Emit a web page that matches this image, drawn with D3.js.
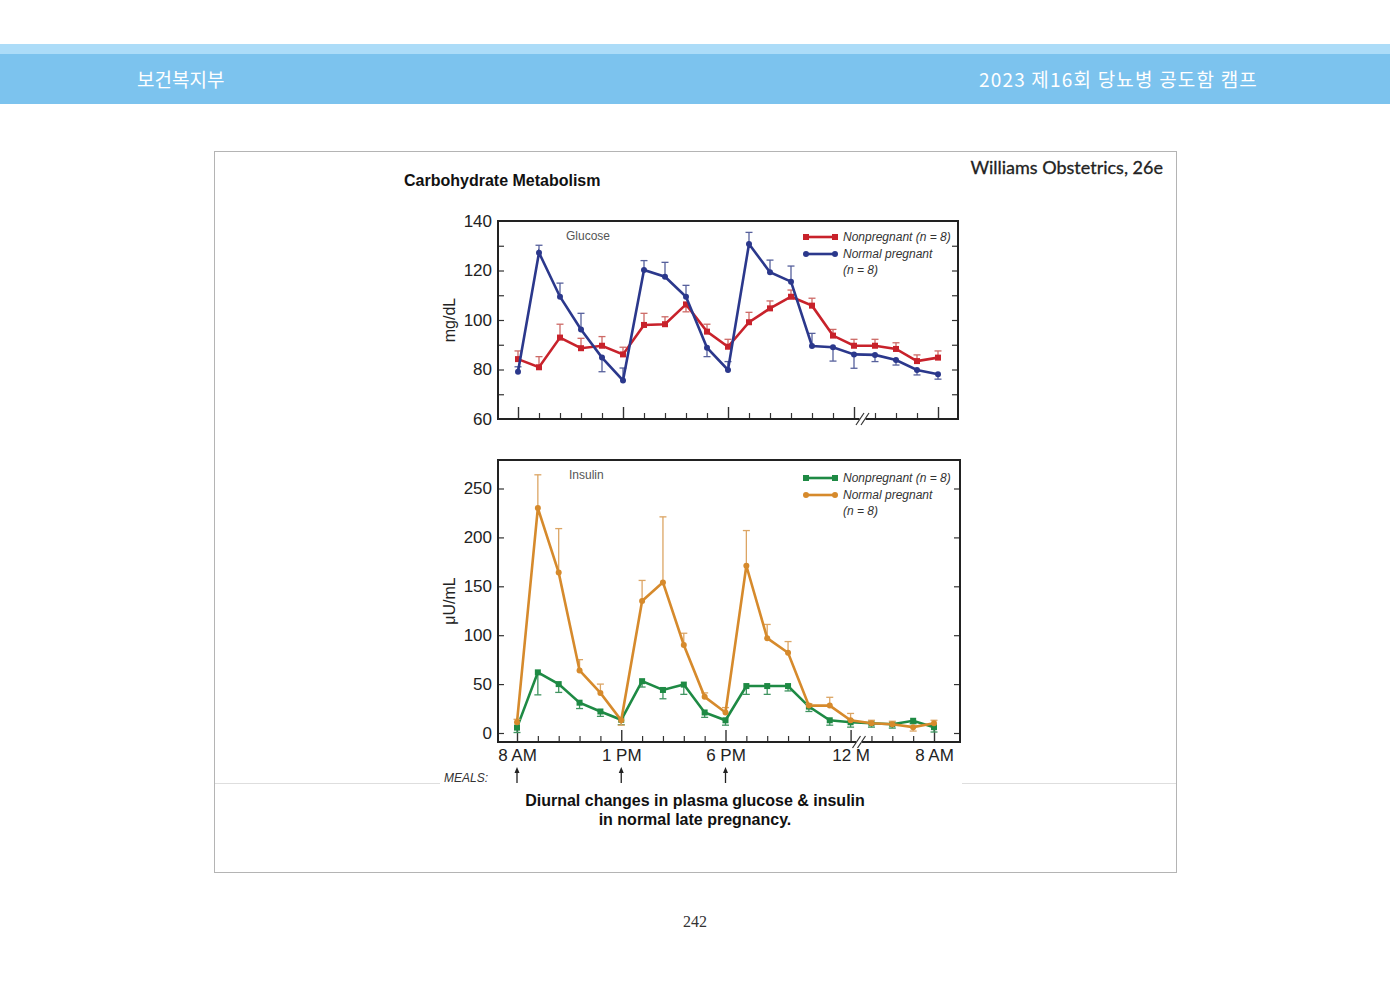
<!DOCTYPE html>
<html>
<head>
<meta charset="utf-8">
<script src="https://cdn.jsdelivr.net/npm/d3@7"></script>
<style>
  body { margin: 0; background: #fff; }
  svg { display: block; }
</style>
</head>
<body>
<script>
// sampling times (hourly until midnight, then every 2 h)
var times = ["8a","9a","10a","11a","12p","1p","2p","3p","4p","5p","6p","7p","8p","9p","10p","11p","12m","2a","4a","6a","8a2"];
var longTicks = ["8a","1p","6p","12m","8a2"];
var tickLabels = {"8a": "8 AM", "1p": "1 PM", "6p": "6 PM", "12m": "12 M", "8a2": "8 AM"};
var meals = ["8a","1p","6p"];

// glucose, mg/dL
var glucoseNonpreg    = [84.2, 80.9, 92.9, 88.6, 89.6, 86.1, 98.0, 98.3, 106.3, 95.3, 89.2, 99.1, 104.7, 109.4, 105.8, 93.7, 89.6, 89.6, 88.3, 83.4, 84.8];
var glucoseNonpregErr = [3.3, 4.3, 5.4, 4.0, 3.7, 2.9, 4.7, 3.0, -3.0, 3.0, 3.0, 4.0, 3.0, 2.7, 3.0, 2.5, 2.6, 2.6, 2.5, 2.5, 2.7];
var glucosePreg       = [79.1, 127.2, 109.4, 96.2, 84.8, 75.6, 120.2, 117.5, 109.4, 88.8, 79.8, 130.7, 119.3, 115.5, 89.5, 89.0, 86.1, 85.9, 83.8, 79.8, 78.1];
var glucosePregErr    = [2.0, 3.0, 5.5, 6.5, -5.7, 5.0, 3.8, 5.8, 4.6, -3.6, 3.4, 4.7, 4.9, 6.3, 5.1, -5.6, -5.6, -2.7, -2.0, -2.0, -2.0];

// insulin, microU/mL
var insulinNonpreg    = [5.5, 62, 50, 31, 22, 13.5, 53, 44, 49.5, 21, 13, 48, 48, 48, 27, 13, 11, 10, 9, 12.5, 6];
var insulinNonpregErr = [-5, -23, -8.5, -6, -5, -5, -6, -9, -10, -5, -5, -8.5, -8.5, -5, -5, -5, -5, -4, -4, -3, -5];
var insulinPreg       = [11, 230, 164, 64, 41, 13, 135, 154, 90, 37, 21, 171, 97, 82, 28, 28, 13, 10, 9, 6, 10];
var insulinPregErr    = [3, 34, 45, 11, 9, -5, 21, 67, 12, 4, 5, 36, 14, 11.5, 2, 8.5, 7, 3, 3, -4, 3];

var glucoseTicks = [60, 80, 100, 120, 140];
var insulinTicks = [0, 50, 100, 150, 200, 250];

var FONT = "'Liberation Sans', Arial, sans-serif";

var svg = d3.select("body").append("svg")
    .attr("width", 1400)
    .attr("height", 990);

function drawHeader(){
    svg.append("rect").attr("x", 0).attr("y", 44).attr("width", 1390).attr("height", 11).attr("fill", "#acdcf8");
    svg.append("rect").attr("x", 0).attr("y", 54).attr("width", 1390).attr("height", 50).attr("fill", "#7cc3ee");
    svg.append("text").attr("x", 137).attr("y", 87)
        .attr("font-family", "'Noto Sans CJK KR'").attr("font-size", 19).attr("fill", "#fff")
        .text("보건복지부");
    svg.append("text").attr("x", 1258).attr("y", 87).attr("text-anchor", "end")
        .attr("font-family", "'Noto Sans CJK KR'").attr("font-size", 19).attr("letter-spacing", 1.2).attr("fill", "#fff")
        .text("2023 제16회 당뇨병 공도함 캠프");

    // slide frame
    svg.append("rect").attr("x", 214.5).attr("y", 151.5).attr("width", 962).attr("height", 721)
        .attr("fill", "none").attr("stroke", "#b4b4b4");
    svg.append("line").attr("x1", 215).attr("x2", 440).attr("y1", 783.5).attr("y2", 783.5).attr("stroke", "#dedede");
    svg.append("line").attr("x1", 962).attr("x2", 1176).attr("y1", 783.5).attr("y2", 783.5).attr("stroke", "#dedede");

    svg.append("text").attr("x", 1163).attr("y", 174).attr("text-anchor", "end")
        .attr("font-family", "Lato, 'Noto Sans', sans-serif").attr("font-size", 18).attr("fill", "#222")
        .attr("stroke", "#222").attr("stroke-width", 0.3)
        .text("Williams Obstetrics, 26e");
    svg.append("text").attr("x", 404).attr("y", 186)
        .attr("font-family", FONT).attr("font-weight", "bold").attr("font-size", 16).attr("fill", "#111")
        .text("Carbohydrate Metabolism");

    svg.append("text").attr("x", 695).attr("y", 927).attr("text-anchor", "middle")
        .attr("font-family", "'Liberation Serif', serif").attr("font-size", 16).attr("fill", "#333")
        .text("242");
}

// one panel: box, axes, two series with one-sided error bars, legend
function drawPanel(p){
    var x = d3.scalePoint().domain(times).range(p.xRange);
    var y = d3.scaleLinear().domain(p.yDomain).range(p.yRange);
    var g = svg.append("g");

    // y labels
    g.append("g").attr("transform", "translate(" + p.left + ",0)")
        .call(d3.axisLeft(y).tickValues(p.yTicks).tickSize(0).tickPadding(6))
        .call(function(a){ a.select(".domain").remove(); })
        .selectAll("text").attr("font-family", FONT).attr("font-size", 17).attr("fill", "#222");

    // inward ticks left and right
    g.append("g").attr("transform", "translate(" + p.left + ",0)")
        .call(d3.axisLeft(y).tickValues(p.yMinor).tickSizeInner(-6).tickSizeOuter(0).tickFormat(""))
        .call(function(a){ a.select(".domain").remove(); a.selectAll("line").attr("stroke", "#333").attr("stroke-width", 1.2); });
    g.append("g").attr("transform", "translate(" + p.right + ",0)")
        .call(d3.axisRight(y).tickValues(p.yMinor).tickSizeInner(-6).tickSizeOuter(0).tickFormat(""))
        .call(function(a){ a.select(".domain").remove(); a.selectAll("line").attr("stroke", "#333").attr("stroke-width", 1.2); });

    // x ticks, pointing up
    g.append("g").attr("transform", "translate(0," + p.bottom + ")")
        .call(d3.axisBottom(x).tickValues(times.filter(function(t){ return longTicks.indexOf(t) < 0; }))
            .tickSizeInner(-6).tickSizeOuter(0).tickFormat(""))
        .call(function(a){ a.select(".domain").remove(); a.selectAll("line").attr("stroke", "#333").attr("stroke-width", 1.2); });
    g.append("g").attr("transform", "translate(0," + p.bottom + ")")
        .call(d3.axisBottom(x).tickValues(longTicks).tickSizeInner(-12).tickSizeOuter(0).tickFormat(""))
        .call(function(a){ a.select(".domain").remove(); a.selectAll("line").attr("stroke", "#333").attr("stroke-width", 1.4); });

    if (p.xLabels) {
        g.append("g").attr("transform", "translate(0," + p.bottom + ")")
            .call(d3.axisBottom(x).tickValues(longTicks).tickSize(0).tickPadding(7)
                .tickFormat(function(d){ return tickLabels[d]; }))
            .call(function(a){ a.select(".domain").remove(); })
            .selectAll("text").attr("font-family", FONT).attr("font-size", 17).attr("fill", "#222");
    }

    // frame box
    g.append("rect").attr("x", p.left).attr("y", p.top)
        .attr("width", p.right - p.left).attr("height", p.bottom - p.top)
        .attr("fill", "none").attr("stroke", "#222").attr("stroke-width", 2);

    // axis break after midnight
    var bx = (x("12m") + x("2a")) / 2 - 2;
    g.append("rect").attr("x", bx - 3).attr("y", p.bottom - 2).attr("width", 6).attr("height", 4).attr("fill", "#fff");
    [-2.5, 2.5].forEach(function(o){
        g.append("line").attr("x1", bx + o - 4).attr("x2", bx + o + 4)
            .attr("y1", p.bottom + 6).attr("y2", p.bottom - 6)
            .attr("stroke", "#333").attr("stroke-width", 1.2);
    });

    g.append("text").attr("x", p.titleX).attr("y", p.top + 19)
        .attr("font-family", FONT).attr("font-size", 12).attr("fill", "#555")
        .text(p.title);

    g.append("text")
        .attr("transform", "translate(" + 455 + "," + ((p.top + p.bottom) / 2) + ") rotate(-90)")
        .attr("text-anchor", "middle")
        .attr("font-family", FONT).attr("font-size", 16).attr("fill", "#222")
        .text(p.unit);

    p.series.forEach(function(s){
        var pts = s.values.map(function(v, i){ return {t: times[i], v: v, e: s.err[i]}; });

        // error bars
        var eb = g.append("g").attr("stroke", s.errColor).attr("stroke-width", 1.3);
        pts.forEach(function(d){
            var y0 = y(d.v), y1 = y(d.v + d.e);
            eb.append("line").attr("x1", x(d.t)).attr("x2", x(d.t)).attr("y1", y0).attr("y2", y1);
            eb.append("line").attr("x1", x(d.t) - 3.5).attr("x2", x(d.t) + 3.5).attr("y1", y1).attr("y2", y1);
        });

        g.append("path").datum(pts)
            .attr("fill", "none").attr("stroke", s.color).attr("stroke-width", 2.6)
            .attr("d", d3.line().x(function(d){ return x(d.t); }).y(function(d){ return y(d.v); }));

        drawMarks(g, pts.map(function(d){ return [x(d.t), y(d.v)]; }), s);
    });

    // legend
    p.series.forEach(function(s, i){
        var ly = p.legendY + i * 17;
        g.append("line").attr("x1", p.legendX).attr("x2", p.legendX + 29).attr("y1", ly).attr("y2", ly)
            .attr("stroke", s.color).attr("stroke-width", 2.6);
        drawMarks(g, [[p.legendX, ly], [p.legendX + 29, ly]], s);
        var txt = g.append("text").attr("x", p.legendX + 37).attr("y", ly + 4)
            .attr("font-family", FONT).attr("font-style", "italic").attr("font-size", 12).attr("fill", "#333");
        s.label.forEach(function(l, j){
            txt.append("tspan").attr("x", p.legendX + 37).attr("dy", j === 0 ? 0 : 16).text(l);
        });
    });
}

function drawMarks(g, xy, s){
    if (s.shape === "square") {
        g.selectAll(null).data(xy).enter().append("rect")
            .attr("x", function(d){ return d[0] - 3; }).attr("y", function(d){ return d[1] - 3; })
            .attr("width", 6).attr("height", 6).attr("fill", s.color);
    } else {
        g.selectAll(null).data(xy).enter().append("circle")
            .attr("cx", function(d){ return d[0]; }).attr("cy", function(d){ return d[1]; })
            .attr("r", 3).attr("fill", s.color);
    }
}

drawHeader();

drawPanel({
    left: 498, right: 958, top: 221, bottom: 419,
    xRange: [518, 938], yDomain: [60, 140], yRange: [419, 221],
    yTicks: glucoseTicks, yMinor: d3.range(70, 140, 10),
    title: "Glucose", titleX: 566, unit: "mg/dL",
    legendX: 806, legendY: 237, xLabels: false,
    series: [
        {values: glucoseNonpreg, err: glucoseNonpregErr, color: "#c8222b", errColor: "#cd6a66", shape: "square",
         label: ["Nonpregnant (n = 8)"]},
        {values: glucosePreg, err: glucosePregErr, color: "#2b388c", errColor: "#56609c", shape: "circle",
         label: ["Normal pregnant", "(n = 8)"]}
    ]
});

drawPanel({
    left: 498, right: 960, top: 460, bottom: 742,
    xRange: [517, 934], yDomain: [0, 250], yRange: [733, 488.5],
    yTicks: insulinTicks, yMinor: insulinTicks,
    title: "Insulin", titleX: 569, unit: "μU/mL",
    legendX: 806, legendY: 478, xLabels: true,
    series: [
        {values: insulinNonpreg, err: insulinNonpregErr, color: "#1e8a44", errColor: "#3f9460", shape: "square",
         label: ["Nonpregnant (n = 8)"]},
        {values: insulinPreg, err: insulinPregErr, color: "#d68a2c", errColor: "#dca564", shape: "circle",
         label: ["Normal pregnant", "(n = 8)"]}
    ]
});

// meals row
var xm = d3.scalePoint().domain(times).range([517, 934]);
svg.append("text").attr("x", 444).attr("y", 782)
    .attr("font-family", FONT).attr("font-style", "italic").attr("font-size", 12).attr("fill", "#333")
    .text("MEALS:");
meals.forEach(function(m){
    var mx = xm(m);
    svg.append("line").attr("x1", mx).attr("x2", mx).attr("y1", 771).attr("y2", 783)
        .attr("stroke", "#222").attr("stroke-width", 1.3);
    svg.append("path").attr("d", "M" + (mx - 2.5) + ",773 L" + mx + ",767 L" + (mx + 2.5) + ",773 Z").attr("fill", "#222");
});

svg.append("text").attr("x", 695).attr("y", 806).attr("text-anchor", "middle")
    .attr("font-family", FONT).attr("font-weight", "bold").attr("font-size", 16).attr("fill", "#111")
    .text("Diurnal changes in plasma glucose & insulin");
svg.append("text").attr("x", 695).attr("y", 825).attr("text-anchor", "middle")
    .attr("font-family", FONT).attr("font-weight", "bold").attr("font-size", 16).attr("fill", "#111")
    .text("in normal late pregnancy.");
</script>
</body>
</html>
